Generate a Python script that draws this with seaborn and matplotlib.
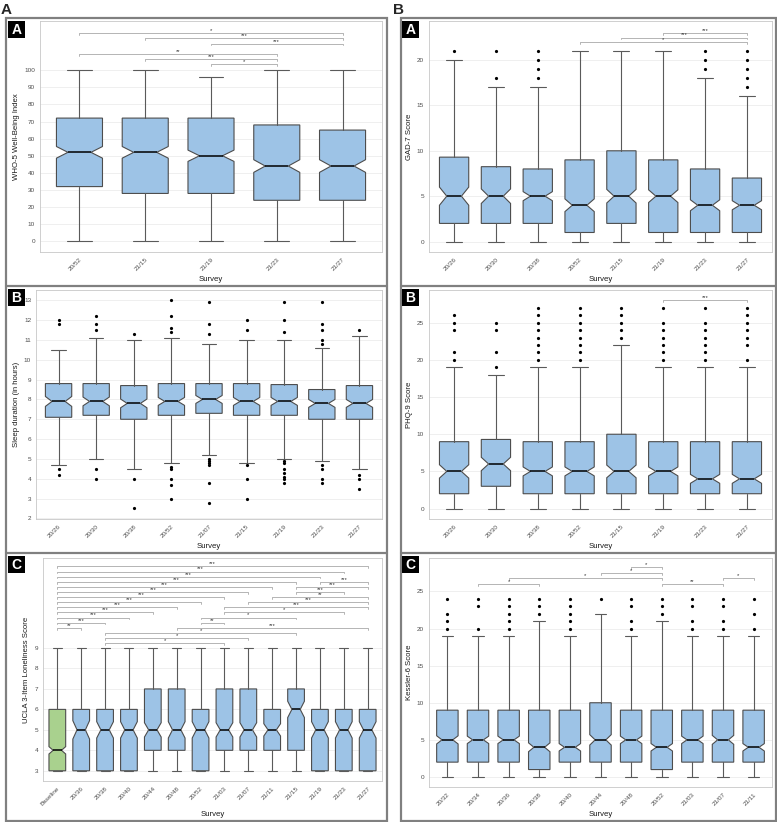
import matplotlib
matplotlib.use("Agg")
import matplotlib.pyplot as plt
from matplotlib.patches import Rectangle
from matplotlib.lines import Line2D
import seaborn as sns
import pandas as pd

# ---------------- data ----------------
# Column A, panel A: WHO-5
who5_surveys = ["20/52", "21/15", "21/19", "21/23", "21/27"]
who5_lo = [0, 0, 0, 0, 0]
who5_q1 = [32, 28, 28, 24, 24]
who5_med = [52, 52, 50, 44, 44]
who5_q3 = [72, 72, 72, 68, 65]
who5_hi = [100, 100, 96, 100, 100]
who5_notch = [3.4, 3.4, 3.3, 3.7, 3.7]
who5_out = [[], [], [], [], []]
who5_sig = [(0, 4, "*", 6), (1, 4, "***", 5), (2, 4, "***", 4),
            (0, 3, "**", 2), (1, 3, "***", 1), (2, 3, "*", 0)]

# Column A, panel B: sleep duration
sleep_surveys = ["20/26", "20/30", "20/38", "20/52", "21/07", "21/15", "21/19", "21/23", "21/27"]
sleep_lo = [4.7, 5.0, 4.5, 4.8, 5.2, 4.8, 5.0, 4.9, 4.5]
sleep_q1 = [7.1, 7.2, 7.0, 7.2, 7.3, 7.2, 7.2, 7.0, 7.0]
sleep_med = [7.9, 7.9, 7.8, 7.9, 8.0, 7.9, 7.9, 7.8, 7.8]
sleep_q3 = [8.8, 8.8, 8.7, 8.8, 8.8, 8.8, 8.75, 8.5, 8.7]
sleep_hi = [10.5, 11.1, 11.0, 11.1, 10.8, 11.0, 11.0, 10.6, 11.2]
sleep_notch = [0.25, 0.22, 0.22, 0.2, 0.2, 0.2, 0.2, 0.2, 0.2]
sleep_out = [
    [12.0, 11.8, 4.5, 4.2],
    [12.2, 11.8, 11.5, 4.5, 4.0],
    [11.3, 4.0, 2.5],
    [13.0, 12.2, 11.6, 11.4, 4.6, 4.5, 4.0, 3.7, 3.0],
    [12.9, 11.8, 11.3, 5.0, 4.9, 4.8, 4.7, 3.8, 2.8],
    [12.0, 11.5, 4.7, 4.0, 3.0],
    [12.9, 12.0, 11.4, 4.9, 4.8, 4.5, 4.3, 4.1, 4.0, 3.8],
    [12.9, 11.8, 11.5, 11.0, 10.8, 4.7, 4.5, 4.0, 3.8],
    [11.5, 4.2, 4.0, 3.5],
]
sleep_sig = []

# Column A, panel C: UCLA loneliness
ucla_surveys = ["Baseline", "20/36", "20/38", "20/40", "20/44", "20/48", "20/52",
                "21/03", "21/07", "21/11", "21/15", "21/19", "21/23", "21/27"]
ucla_lo = [3] * 14
ucla_q1 = [3, 3, 3, 3, 4, 4, 3, 4, 4, 4, 4, 3, 3, 3]
ucla_med = [4, 5, 5, 5, 5, 5, 5, 5, 5, 5, 6, 5, 5, 5]
ucla_q3 = [6, 6, 6, 6, 7, 7, 6, 7, 7, 6, 7, 6, 6, 6]
ucla_hi = [9] * 14
ucla_notch = [0.18, 0.45, 0.4, 0.4, 0.35, 0.4, 0.4, 0.35, 0.35, 0.3, 0.4, 0.4, 0.4, 0.4]
ucla_out = [[] for _ in range(14)]
ucla_sig = [
    (0, 13, "***", 15), (0, 12, "***", 14), (0, 11, "***", 13),
    (0, 10, "***", 12), (11, 13, "***", 12),
    (0, 9, "***", 11), (10, 13, "***", 11),
    (0, 8, "***", 10), (10, 12, "***", 10),
    (0, 7, "***", 9), (9, 13, "**", 9),
    (0, 6, "***", 8), (8, 13, "***", 8),
    (0, 5, "***", 7), (7, 13, "***", 7),
    (0, 4, "***", 6), (7, 12, "*", 6),
    (0, 3, "***", 5), (6, 10, "*", 5),
    (0, 2, "***", 4), (6, 7, "**", 4),
    (0, 1, "**", 3), (5, 13, "***", 3),
    (2, 10, "*", 2), (2, 8, "*", 1), (2, 7, "*", 0),
]

# Column B, panel A: GAD-7
gad_surveys = ["20/26", "20/30", "20/38", "20/52", "21/15", "21/19", "21/23", "21/27"]
gad_lo = [0] * 8
gad_q1 = [2, 2, 2, 1, 2, 1, 1, 1]
gad_med = [5, 5, 5, 4, 5, 5, 4, 4]
gad_q3 = [9.3, 8.25, 8, 9, 10, 9, 8, 7]
gad_hi = [20, 17, 17, 21, 21, 21, 18, 16]
gad_notch = [1.0, 0.8, 0.5, 0.7, 0.75, 0.7, 0.6, 0.5]
gad_out = [[21], [18, 21], [18, 19, 20, 21], [], [], [], [19, 20, 21], [17, 18, 19, 20, 21]]
gad_sig = [(5, 7, "***", 2), (4, 7, "***", 1), (3, 7, "*", 0)]

# Column B, panel B: PHQ-9
phq_surveys = ["20/26", "20/30", "20/38", "20/52", "21/15", "21/19", "21/23", "21/27"]
phq_lo = [0] * 8
phq_q1 = [2, 3, 2, 2, 2, 2, 2, 2]
phq_med = [5, 6, 5, 5, 5, 5, 4, 4]
phq_q3 = [9, 9.3, 9, 9, 10, 9, 9, 9]
phq_hi = [19, 18, 19, 19, 22, 19, 19, 19]
phq_notch = [0.9, 0.9, 0.6, 0.6, 0.85, 0.6, 0.6, 0.6]
phq_out = [
    [20, 21, 24, 25, 26],
    [19, 21, 24, 25],
    [20, 21, 22, 23, 24, 25, 26, 27],
    [20, 21, 22, 23, 24, 25, 26, 27],
    [23, 24, 25, 26, 27],
    [20, 21, 22, 23, 24, 25, 27],
    [20, 21, 22, 23, 24, 25, 27],
    [20, 22, 23, 24, 25, 26, 27],
]
phq_sig = [(5, 7, "***", 0)]

# Column B, panel C: Kessler-6
k6_surveys = ["20/32", "20/34", "20/36", "20/38", "20/40", "20/44",
              "20/48", "20/52", "21/03", "21/07", "21/11"]
k6_lo = [0] * 11
k6_q1 = [2, 2, 2, 1, 2, 2, 2, 1, 2, 2, 2]
k6_med = [5, 5, 5, 4, 4, 5, 5, 4, 5, 5, 4]
k6_q3 = [9, 9, 9, 9, 9, 10, 9, 9, 9, 9, 9]
k6_hi = [19, 19, 19, 21, 19, 22, 19, 21, 19, 19, 19]
k6_notch = [0.55, 0.5, 0.5, 0.6, 0.5, 0.7, 0.5, 0.5, 0.5, 0.6, 0.5]
k6_out = [
    [20, 21, 22, 24], [20, 23, 24], [20, 21, 22, 23, 24], [22, 23, 24],
    [20, 21, 22, 23, 24], [24], [20, 21, 23, 24], [22, 23, 24],
    [20, 21, 23, 24], [20, 21, 23, 24], [20, 22, 24],
]
k6_sig = [(6, 7, "*", 3), (5, 7, "*", 2), (2, 7, "*", 1),
          (1, 3, "*", 0), (7, 9, "**", 0), (9, 10, "*", 1)]

# ---------------- style ----------------
sns.set_style("white")
plt.rcParams["font.family"] = ["Liberation Sans", "DejaVu Sans"]

BLUE = "#9dc3e6"
GREEN = "#a9d18e"
EDGE = "#4d4d4d"
WHISK = "#5a5a5a"
FRAME = "#808080"

W, H = 777, 822
fig = plt.figure(figsize=(W / 100, H / 100), dpi=100)


def px_rect(x0, y0, x1, y1):
    return [x0 / W, 1 - y1 / H, (x1 - x0) / W, (y1 - y0) / H]


def draw_panel(ax, surveys, lo, q1, med, q3, hi, notch, outliers, sig,
               sig_base, sig_step, ylim, yticks, ylabel, first_green=False):
    n = len(surveys)
    stats = []
    for i in range(n):
        stats.append(dict(med=med[i], q1=q1[i], q3=q3[i], whislo=lo[i], whishi=hi[i],
                          cilo=med[i] - notch[i], cihi=med[i] + notch[i], fliers=[]))
    res = ax.bxp(stats, positions=range(n), widths=0.7, capwidths=0.38,
                 shownotches=True, patch_artist=True, showfliers=False,
                 boxprops=dict(facecolor=BLUE, edgecolor=EDGE, linewidth=0.8),
                 medianprops=dict(color="black", linewidth=1.1),
                 whiskerprops=dict(color=WHISK, linewidth=0.8),
                 capprops=dict(color=WHISK, linewidth=0.8), zorder=2)
    if first_green:
        res["boxes"][0].set_facecolor(GREEN)

    # outliers
    rows = [(surveys[i], v) for i in range(n) for v in outliers[i]]
    if rows:
        df = pd.DataFrame(rows, columns=["Survey", "value"])
        sns.stripplot(data=df, x="Survey", y="value", order=surveys, jitter=False,
                      color="black", size=2.3, linewidth=0, ax=ax, zorder=3)

    # significance brackets
    tip = (ylim[1] - ylim[0]) * 0.008
    for a, b, lab, row in sig:
        y = sig_base + sig_step * row
        ax.plot([a, a, b, b], [y - tip, y, y, y - tip], color="#a8a8a8", lw=0.6, zorder=1)
        ax.text((a + b) / 2, y, lab, ha="center", va="bottom", fontsize=4.2,
                color="#333333")

    ax.set_xlim(-0.6, n - 0.4)
    ax.set_ylim(*ylim)
    ax.set_yticks(yticks)
    ax.set_xticks(range(n))
    ax.set_xticklabels(surveys, rotation=45, ha="right", rotation_mode="anchor")
    ax.tick_params(axis="both", labelsize=4.6, labelcolor="#4d4d4d", color="#4d4d4d",
                   length=2, width=0.5, pad=1.5)
    ax.yaxis.grid(True, color="#ececec", lw=0.6)
    ax.set_axisbelow(True)
    for s in ax.spines.values():
        s.set_color("#c8c8c8")
        s.set_linewidth(0.6)
    ax.set_xlabel("Survey", fontsize=5.6, color="#1a1a1a", labelpad=3)
    ax.set_ylabel(ylabel, fontsize=5.6, color="#1a1a1a", labelpad=3)


panels = [
    (px_rect(40, 21, 382, 252), who5_surveys, who5_lo, who5_q1, who5_med, who5_q3, who5_hi,
     who5_notch, who5_out, who5_sig, 103.5, 3.0, (-6.2, 128.7), range(0, 101, 10),
     "WHO-5 Well-Being Index", False),
    (px_rect(36, 290, 382, 519), sleep_surveys, sleep_lo, sleep_q1, sleep_med, sleep_q3, sleep_hi,
     sleep_notch, sleep_out, sleep_sig, 0, 0, (1.97, 13.52), range(2, 14),
     "Sleep duration (in hours)", False),
    (px_rect(43, 558, 382, 781), ucla_surveys, ucla_lo, ucla_q1, ucla_med, ucla_q3, ucla_hi,
     ucla_notch, ucla_out, ucla_sig, 9.24, 0.25, (2.5, 13.4), range(3, 10),
     "UCLA 3-Item Loneliness Score", True),
    (px_rect(429, 21, 772, 252), gad_surveys, gad_lo, gad_q1, gad_med, gad_q3, gad_hi,
     gad_notch, gad_out, gad_sig, 21.98, 0.5, (-1.15, 24.3), range(0, 21, 5),
     "GAD-7 Score", False),
    (px_rect(429, 290, 772, 519), phq_surveys, phq_lo, phq_q1, phq_med, phq_q3, phq_hi,
     phq_notch, phq_out, phq_sig, 28.04, 0.5, (-1.4, 29.4), range(0, 26, 5),
     "PHQ-9 Score", False),
    (px_rect(429, 558, 772, 787), k6_surveys, k6_lo, k6_q1, k6_med, k6_q3, k6_hi,
     k6_notch, k6_out, k6_sig, 25.99, 0.75, (-1.35, 29.5), range(0, 26, 5),
     "Kessler-6 Score", False),
]

for p in panels:
    ax = fig.add_axes(p[0])
    draw_panel(ax, *p[1:])

# frames, separators and panel letters
for x0, x1 in [(6, 387), (401, 776)]:
    fig.add_artist(Rectangle((x0 / W, 1 - 821 / H), (x1 - x0) / W, (821 - 18) / H,
                             transform=fig.transFigure, fill=False, ec=FRAME, lw=1.6))
    for ys in (286, 553):
        fig.add_artist(Line2D([x0 / W, x1 / W], [1 - ys / H, 1 - ys / H],
                              transform=fig.transFigure, color=FRAME, lw=1.6))

for bx, by, lab in [(8, 21, "A"), (8, 289, "B"), (8, 556, "C"),
                    (402, 21, "A"), (402, 289, "B"), (402, 556, "C")]:
    fig.add_artist(Rectangle((bx / W, 1 - (by + 17) / H), 17 / W, 17 / H,
                             transform=fig.transFigure, fc="black", ec="none"))
    fig.text((bx + 8.5) / W, 1 - (by + 8.8) / H, lab, ha="center", va="center",
             color="white", fontsize=10, fontweight="bold")

fig.text(1 / W, 1 - 10 / H, "A", ha="left", va="center", fontsize=11, fontweight="bold")
fig.text(393 / W, 1 - 10 / H, "B", ha="left", va="center", fontsize=11, fontweight="bold")

fig.savefig("out.png", dpi=100, facecolor="white")
